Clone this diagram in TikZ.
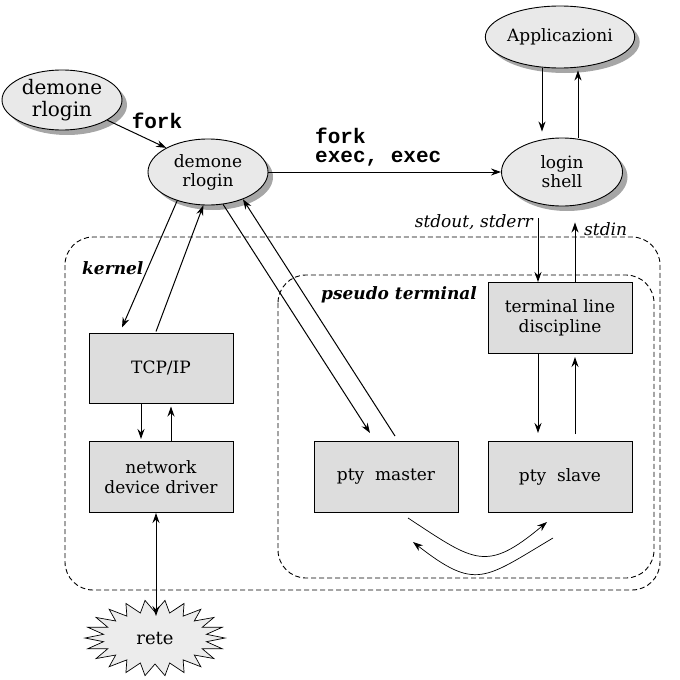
\documentclass[tikz,border=0pt]{standalone}
\usepackage{fontspec}
\setmainfont{DejaVu Serif}
\setmonofont{Liberation Mono}
\usetikzlibrary{shapes.geometric,shadows,arrows.meta,calc}
\begin{document}
\begin{tikzpicture}[x=1pt,y=-1pt,
  ell/.style={ellipse, draw, fill=gray!17, line width=0.9pt, inner sep=0pt, align=center,
    drop shadow={shadow xshift=5pt, shadow yshift=-5pt, fill=gray!70, opacity=1},
    font=\fontsize{17}{19}\selectfont},
  box/.style={rectangle, draw, fill=gray!27, line width=1pt, minimum width=144pt,
    minimum height=71pt, align=center, font=\fontsize{17}{20}\selectfont},
  arr/.style={-{Stealth[length=10pt,width=7pt]}, line width=1pt},
  carr/.style={-{Stealth[length=10pt,width=7pt]}, line width=0.7pt},
  dbox/.style={dash pattern=on 5pt off 3pt, line width=0.9pt, rounded corners=28pt},
  mono/.style={inner sep=0pt, font=\fontsize{21}{19}\selectfont\ttfamily\bfseries},
  ital/.style={inner sep=0pt, font=\fontsize{17}{19}\selectfont\itshape},
  bital/.style={inner sep=0pt, font=\fontsize{17}{19}\selectfont\bfseries\itshape}]
\useasboundingbox (0,0) rectangle (680,680);

% dashed regions
\draw[dbox] (65,237) rectangle (660,590);
\draw[dbox] (278,275) rectangle (654,578);

% ellipses
\node[ell, minimum width=120pt, minimum height=60pt, font=\fontsize{20}{22}\selectfont] (d1) at (62,100) {demone\\rlogin};
\node[ell, minimum width=120pt, minimum height=66pt] (d2) at (208,172) {demone\\rlogin};
\node[ell, minimum width=144pt, minimum height=62pt] (app) at (560,37) {Applicazioni};
\node[ell, minimum width=121pt, minimum height=68pt] (login) at (562,172) {login\\shell};

% boxes
\node[box, minimum height=70pt] (tcp) at (161,368) {TCP/IP};
\node[box] (net) at (161,477) {network\\device driver};
\node[box] (ptym) at (386,477) {pty\ \ master};
\node[box] (ptys) at (560,477) {pty\ \ slave};
\node[box] (tld) at (560,318) {terminal line\\discipline};

% star "rete"
\draw[fill=gray!15, line width=0.7pt] (225,638)
  \foreach \i in {1,...,43} { -- ({155+(70-18*mod(\i,2))*cos(\i*360/44)},{638+(38-12*mod(\i,2))*sin(\i*360/44)}) } -- cycle;
\node[font=\fontsize{18}{20}\selectfont] (rete) at (155,638) {rete};

% labels
\node[mono] (lf) at (157,121) {fork};
\node[mono, anchor=north west, align=left] (lfe) at (315,128) {fork\\exec, exec};
\node[ital, anchor=east] (lso) at (533,222) {stdout, stderr};
\node[ital, anchor=west] (lsi) at (584,229) {stdin};
\node[bital, anchor=west] (lk) at (82,268) {kernel};
\node[bital, anchor=west] (lpt) at (321,295) {pseudo terminal};

% connectors
\draw[arr] (d1.336) -- (d2.150);
\draw[arr] (d2.east) -- (login.west);
\draw[arr] ([xshift=-18pt]app.south) -- ([xshift=-20pt,yshift=6pt]login.north);
\draw[arr] ([xshift=16pt]login.north) -- ([xshift=18pt,yshift=-2pt]app.south);
\draw[arr] ([xshift=-24pt,yshift=-12pt]login.south) -- ([xshift=-22pt]tld.north);
\draw[arr] ([xshift=15pt]tld.north) -- ([xshift=13pt,yshift=-16pt]login.south);
\draw[arr] ([xshift=-22pt]tld.south) -- ([xshift=-22pt,yshift=8pt]ptys.north);
\draw[arr] ([xshift=15pt,yshift=7pt]ptys.north) -- ([xshift=15pt,yshift=-3pt]tld.south);
\draw[arr] ([xshift=-20pt]tcp.south) -- ([xshift=-20pt,yshift=2pt]net.north);
\draw[arr] ([xshift=10pt]net.north) -- ([xshift=10pt,yshift=-3pt]tcp.south);
\draw[arr] (d2.223) -- ([xshift=-39pt,yshift=5pt]tcp.north);
\draw[arr] ([xshift=-5pt,yshift=1pt]tcp.north) -- (d2.262);
\draw[arr] (d2.295) -- ([xshift=-16pt,yshift=8pt]ptym.north);
\draw[arr] ([xshift=9pt,yshift=5pt]ptym.north) -- (d2.322);
\draw[{Stealth[length=10pt,width=7pt]}-{Stealth[length=10pt,width=7pt]}, line width=1pt]
  ([xshift=-5pt]net.south) -- ([xshift=1pt,yshift=22pt]rete.center);
\draw[carr] ([xshift=22pt,yshift=-5pt]ptym.south) .. controls (475,562) and (486,573) .. ([xshift=-13pt,yshift=-9pt]ptys.south);
\draw[carr] ([xshift=-7pt,yshift=-25pt]ptys.south) .. controls (484,579) and (476,591) .. ([xshift=27pt,yshift=-29pt]ptym.south);
\end{tikzpicture}
\end{document}
